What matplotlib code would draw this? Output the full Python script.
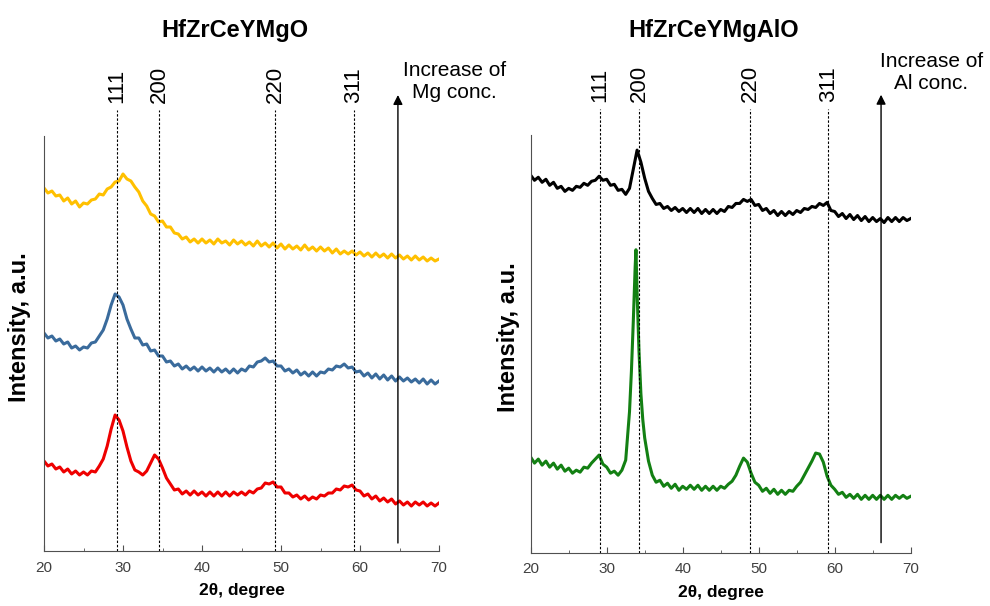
import matplotlib
matplotlib.use("Agg")
import matplotlib.pyplot as plt
from matplotlib.ticker import MultipleLocator

plt.rcParams['font.family'] = ['Liberation Sans', 'DejaVu Sans']

# ---------------- data ----------------
two_theta = [20.0 + 0.5 * i for i in range(101)]

mg_high = [363, 358, 360, 355, 356, 350, 353, 347, 350, 344, 348, 347, 351, 352, 357, 356, 362, 364, 369, 370,
           377, 372, 370, 364, 359, 350, 345, 337, 335, 329, 330, 324, 324, 318, 317, 312, 314, 309, 312, 308,
           312, 308, 311, 307, 312, 308, 310, 306, 311, 307, 310, 306, 309, 305, 310, 305, 308, 304, 308, 303,
           307, 302, 306, 302, 305, 301, 306, 301, 304, 300, 304, 300, 303, 298, 302, 297, 300, 297, 300, 296,
           299, 295, 298, 294, 298, 294, 297, 293, 297, 293, 296, 292, 295, 291, 295, 291, 294, 290, 293, 290, 292]

mg_mid = [218, 213, 215, 210, 212, 207, 209, 203, 205, 201, 204, 203, 208, 209, 215, 221, 232, 246, 257, 254,
          246, 232, 222, 213, 213, 206, 207, 200, 201, 195, 195, 189, 190, 185, 187, 182, 185, 181, 184, 180,
          184, 180, 183, 179, 183, 179, 182, 178, 182, 178, 182, 180, 185, 184, 189, 190, 193, 189, 190, 185,
          185, 180, 182, 178, 181, 176, 179, 175, 179, 175, 179, 178, 182, 181, 185, 184, 187, 183, 184, 179,
          180, 175, 178, 173, 177, 172, 176, 171, 175, 170, 174, 170, 173, 169, 172, 168, 172, 167, 171, 167, 170]

mg_low = [90, 85, 87, 82, 84, 79, 82, 77, 80, 76, 79, 76, 80, 79, 85, 92, 105, 122, 136, 131,
          120, 104, 90, 81, 79, 76, 80, 88, 96, 92, 83, 73, 67, 61, 62, 57, 60, 56, 60, 56,
          59, 55, 59, 55, 59, 55, 59, 55, 59, 56, 59, 56, 60, 58, 62, 63, 68, 67, 69, 64,
          64, 58, 58, 54, 56, 52, 55, 51, 54, 52, 56, 55, 58, 58, 62, 61, 65, 64, 66, 61,
          60, 55, 57, 52, 55, 50, 53, 49, 52, 47, 50, 46, 49, 45, 49, 46, 49, 45, 48, 45, 48]

al_high = [375, 370, 373, 368, 371, 365, 368, 362, 364, 359, 362, 360, 364, 363, 367, 365, 369, 370, 374, 370,
           371, 365, 366, 360, 361, 356, 362, 381, 400, 388, 372, 359, 352, 346, 347, 342, 344, 340, 343, 339,
           342, 338, 342, 338, 342, 337, 341, 337, 341, 337, 341, 339, 344, 343, 347, 347, 351, 349, 351, 345,
           346, 340, 342, 337, 340, 335, 339, 335, 339, 336, 340, 338, 342, 341, 344, 343, 347, 345, 348, 340,
           339, 334, 337, 332, 336, 331, 335, 330, 334, 329, 333, 329, 332, 328, 333, 329, 333, 329, 333, 330, 332]

al_low_theta = [20.0, 20.5, 21.0, 21.5, 22.0, 22.5, 23.0, 23.5, 24.0, 24.5, 25.0, 25.5, 26.0, 26.5, 27.0, 27.5,
                28.0, 28.5, 29.0, 29.5, 30.0, 30.5, 31.0, 31.5, 32.0, 32.5, 33.0, 33.25, 33.5, 33.75, 33.85,
                34.0, 34.25, 34.5, 34.75, 35.0, 35.5, 36.0, 36.5, 37.0, 37.5, 38.0, 38.5, 39.0, 39.5, 40.0,
                40.5, 41.0, 41.5, 42.0, 42.5, 43.0, 43.5, 44.0, 44.5, 45.0, 45.5, 46.0, 46.5, 47.0, 47.5,
                48.0, 48.5, 49.0, 49.5, 50.0, 50.5, 51.0, 51.5, 52.0, 52.5, 53.0, 53.5, 54.0, 54.5, 55.0,
                55.5, 56.0, 56.5, 57.0, 57.5, 58.0, 58.5, 59.0, 59.5, 60.0, 60.5, 61.0, 61.5, 62.0, 62.5,
                63.0, 63.5, 64.0, 64.5, 65.0, 65.5, 66.0, 66.5, 67.0, 67.5, 68.0, 68.5, 69.0, 69.5, 70.0]
al_low = [95, 89, 93, 87, 91, 85, 89, 83, 87, 81, 84, 79, 82, 80, 85, 84,
          89, 93, 97, 88, 85, 79, 81, 77, 82, 92, 140, 180, 230, 285, 301,
          258, 200, 158, 132, 114, 91, 77, 70, 72, 66, 69, 64, 68, 62, 66,
          63, 67, 63, 67, 62, 66, 62, 66, 62, 66, 64, 68, 71, 77, 86,
          94, 90, 79, 70, 67, 61, 64, 59, 63, 58, 62, 58, 62, 61, 66,
          70, 77, 84, 91, 99, 98, 90, 76, 67, 63, 58, 60, 55, 58, 54,
          58, 53, 57, 53, 57, 53, 57, 53, 57, 53, 57, 54, 57, 54, 56]

peak_labels = ['111', '200', '220', '311']
peaks_mg = [29.2, 34.6, 49.3, 59.2]
peaks_al = [29.1, 34.25, 48.85, 59.15]

titles = ['HfZrCeYMgO', 'HfZrCeYMgAlO']
arrow_texts = ['Increase of\nMg conc.', 'Increase of\nAl conc.']

# ---------------- figure ----------------
fig = plt.figure(figsize=(9.9, 6.06), dpi=100)
W, H = 990.0, 606.0

def fig_axes(x0, x1, ybot, ytop):
    return fig.add_axes([x0 / W, 1 - ybot / H, (x1 - x0) / W, (ybot - ytop) / H])

ax1 = fig_axes(44, 439, 551, 136)
ax2 = fig_axes(530.7, 910.7, 552.7, 135)

LW = 2.2
ax1.plot(two_theta, mg_high, color='#FFC000', lw=LW)
ax1.plot(two_theta, mg_mid, color='#3A6B9C', lw=LW)
ax1.plot(two_theta, mg_low, color='#EE0000', lw=LW)

ax2.plot(two_theta, al_high, color='black', lw=LW)
ax2.plot(al_low_theta, al_low, color='#138013', lw=LW)

tick_col = '#404040'
for ax in (ax1, ax2):
    ax.set_xlim(20, 70)
    ax.set_ylim(0, 415)
    for s in ('top', 'right'):
        ax.spines[s].set_visible(False)
    ax.spines['left'].set_color('#505050')
    ax.spines['bottom'].set_color('#505050')
    ax.set_yticks([])
    ax.xaxis.set_major_locator(MultipleLocator(10))
    ax.xaxis.set_minor_locator(MultipleLocator(5))
    ax.tick_params(axis='x', which='major', direction='in', length=4, colors='#505050',
                   labelcolor=tick_col, labelsize=11, pad=7)
    ax.tick_params(axis='x', which='minor', direction='in', length=2.5, colors='#505050')
    ax.set_xlabel('2θ, degree', fontsize=12.5, fontweight='bold', labelpad=6)
    ax.set_ylabel('Intensity, a.u.', fontsize=17, fontweight='bold')

ax1.yaxis.set_label_coords(-0.033, 0.54)
ax2.yaxis.set_label_coords(-0.028, 0.515)

# peak guide lines and labels
for ax, peaks in ((ax1, peaks_mg), (ax2, peaks_al)):
    for p, lab in zip(peaks, peak_labels):
        ax.plot([p, p], [0, 441], color='black', lw=0.8, ls=(0, (2.2, 1.6)), clip_on=False)
        ax.text(p, 448, lab, rotation=90, ha='center', va='bottom', fontsize=16, clip_on=False)

# arrows
ax1.annotate('', xy=(64.8, 456), xytext=(64.8, 8), xycoords='data',
             arrowprops=dict(arrowstyle='-|>', color='black', lw=1.0, mutation_scale=14,
                             shrinkA=0, shrinkB=0), annotation_clip=False)
ax2.annotate('', xy=(66.1, 455), xytext=(66.1, 10), xycoords='data',
             arrowprops=dict(arrowstyle='-|>', color='black', lw=1.0, mutation_scale=14,
                             shrinkA=0, shrinkB=0), annotation_clip=False)
ax1.text(72.0, 469, arrow_texts[0], ha='center', va='center', fontsize=15,
         linespacing=1.2, clip_on=False)
ax2.text(72.7, 477, arrow_texts[1], ha='center', va='center', fontsize=15,
         linespacing=1.2, clip_on=False)

# titles
fig.text(235 / W, 1 - 30 / H, titles[0], ha='center', va='center', fontsize=17, fontweight='bold')
fig.text(714 / W, 1 - 30 / H, titles[1], ha='center', va='center', fontsize=17, fontweight='bold')

fig.savefig('out.png', dpi=100)
